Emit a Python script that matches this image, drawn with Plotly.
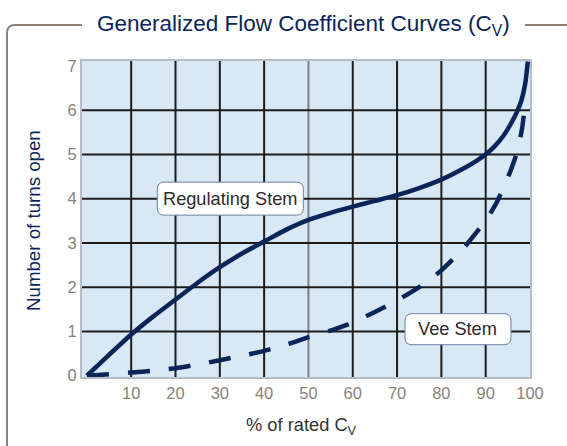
import plotly.graph_objects as go

# ---------------- data ----------------
reg_x = [0, 5, 10, 15, 20, 25, 30, 35, 40, 45, 50, 55, 60, 65, 70, 75, 80, 85, 88, 90, 92, 94, 96, 97, 98, 99, 99.5]
reg_y = [0, 0.47, 0.93, 1.34, 1.72, 2.1, 2.45, 2.76, 3.03, 3.3, 3.52, 3.68, 3.82, 3.95, 4.08, 4.24, 4.43, 4.68, 4.86, 5.0, 5.18, 5.42, 5.75, 5.95, 6.2, 6.65, 7.1]

vee_x = [0, 5, 10, 15, 20, 25, 30, 35, 40, 45, 50, 55, 60, 65, 70, 75, 80, 85, 88, 90, 92.5, 95.5, 97.1, 98.2, 98.8]
vee_y = [0, 0.03, 0.07, 0.11, 0.17, 0.25, 0.35, 0.45, 0.56, 0.7, 0.87, 1.02, 1.2, 1.44, 1.7, 2.0, 2.38, 2.88, 3.25, 3.5, 3.92, 4.6, 5.06, 5.58, 6.05]

x_ticks = [10, 20, 30, 40, 50, 60, 70, 80, 90, 100]
y_ticks = [0, 1, 2, 3, 4, 5, 6, 7]
x_grid = [10, 20, 30, 40, 60, 70, 80, 90]
y_grid = [1, 2, 3, 4, 5, 6]

# ---------------- layout geometry ----------------
W, H = 567, 446
L, R, T, B = 82, 37, 61, 69
XR = [-1.1, 100]
YR = [-0.03, 7.11]
NAVY = "#0b2559"
FONT = "Liberation Sans, Arial, Helvetica, sans-serif"

pw, ph = W - L - R, H - T - B
def px2x(px):
    return (px - L) / pw
def px2y(py):
    return (H - B - py) / ph

sx = pw / (XR[1] - XR[0])
sy = ph / (YR[1] - YR[0])

def rrect(cx, cy, wpx, hpx, rpx):
    hw, hh = wpx / 2 / sx, hpx / 2 / sy
    rx, ry = rpx / sx, rpx / sy
    x0, x1, y0, y1 = cx - hw, cx + hw, cy - hh, cy + hh
    return (f"M {x0+rx},{y1} L {x1-rx},{y1} Q {x1},{y1} {x1},{y1-ry} "
            f"L {x1},{y0+ry} Q {x1},{y0} {x1-rx},{y0} L {x0+rx},{y0} "
            f"Q {x0},{y0} {x0},{y0+ry} L {x0},{y1-ry} Q {x0},{y1} {x0+rx},{y1} Z")

fig = go.Figure()
fig.add_trace(go.Scatter(x=reg_x, y=reg_y, mode="lines", name="Regulating Stem",
                         line=dict(color=NAVY, width=4.5, shape="spline", smoothing=0.6)))
fig.add_trace(go.Scatter(x=vee_x, y=vee_y, mode="lines", name="Vee Stem",
                         line=dict(color=NAVY, width=4.5, dash="22px,19px", shape="spline", smoothing=0.6)))

shapes = []
# gridlines (drawn between background and traces)
for v in x_grid:
    shapes.append(dict(type="line", xref="x", yref="paper", x0=v, x1=v, y0=0, y1=1,
                       line=dict(color="#1c1c1c", width=2), layer="between"))
shapes.append(dict(type="line", xref="x", yref="paper", x0=50, x1=50, y0=0, y1=1,
                   line=dict(color="#7f7f7f", width=2), layer="between"))
for v in y_grid:
    shapes.append(dict(type="line", xref="paper", yref="y", x0=0, x1=1, y0=v, y1=v,
                       line=dict(color="#1c1c1c", width=2), layer="between"))

# label boxes
shapes.append(dict(type="path", xref="x", yref="y", path=rrect(32.37, 4.0, 146, 33, 7),
                   fillcolor="white", line=dict(color="#6d80a3", width=1), layer="above"))
shapes.append(dict(type="path", xref="x", yref="y", path=rrect(83.75, 1.05, 106, 31, 7),
                   fillcolor="white", line=dict(color="#6d80a3", width=1), layer="above"))

# outer frame
BORDER = "#8d8175"
shapes.append(dict(type="path", xref="paper", yref="paper",
                   path=(f"M {px2x(82)},{px2y(25)} L {px2x(15)},{px2y(25)} "
                         f"Q {px2x(7)},{px2y(25)} {px2x(7)},{px2y(33)} L {px2x(7)},{px2y(480)}"),
                   line=dict(color=BORDER, width=2)))
shapes.append(dict(type="line", xref="paper", yref="paper",
                   x0=px2x(525), x1=px2x(620), y0=px2y(25), y1=px2y(25),
                   line=dict(color=BORDER, width=2)))

annotations = [
    dict(text="Generalized Flow Coefficient Curves (C<sub>V</sub>)", xref="paper", yref="paper",
         x=px2x(303), y=px2y(25), xanchor="center", yanchor="middle", showarrow=False,
         font=dict(family=FONT, size=22.5, color=NAVY)),
    dict(text="Number of turns open", xref="paper", yref="paper", textangle=-90,
         x=px2x(33), y=px2y(221), xanchor="center", yanchor="middle", showarrow=False,
         font=dict(family=FONT, size=18.7, color=NAVY)),
    dict(text="% of rated C<sub>V</sub>", xref="paper", yref="paper",
         x=px2x(301), y=px2y(426), xanchor="center", yanchor="middle", showarrow=False,
         font=dict(family=FONT, size=18.3, color="#333333")),
    dict(text="Regulating Stem", xref="x", yref="y", x=32.37, y=4.0, showarrow=False,
         xanchor="center", yanchor="middle", font=dict(family=FONT, size=18.2, color="#2b2b2b")),
    dict(text="Vee Stem", xref="x", yref="y", x=83.75, y=1.05, showarrow=False,
         xanchor="center", yanchor="middle", font=dict(family=FONT, size=18.2, color="#2b2b2b")),
]

fig.update_layout(
    width=W, height=H, margin=dict(l=L, r=R, t=T, b=B, pad=0),
    paper_bgcolor="white", plot_bgcolor="#d9e8f5",
    showlegend=False, shapes=shapes, annotations=annotations,
    font=dict(family=FONT),
    xaxis=dict(range=XR, tickvals=x_ticks, ticktext=[str(v) for v in x_ticks],
               showgrid=False, zeroline=False, showline=True, mirror=True,
               linecolor="#b6bdc5", linewidth=2, ticks="",
               tickfont=dict(family=FONT, size=16.5, color="#8b8178")),
    yaxis=dict(range=YR, tickvals=y_ticks, ticktext=[str(v) for v in y_ticks],
               showgrid=False, zeroline=False, showline=True, mirror=True,
               linecolor="#b6bdc5", linewidth=2, ticks="",
               tickfont=dict(family=FONT, size=16.5, color="#8b8178")),
)

fig.write_html("out.html", config={"displayModeBar": False},
               post_script="document.body.style.margin='0';document.body.style.padding='0';")
